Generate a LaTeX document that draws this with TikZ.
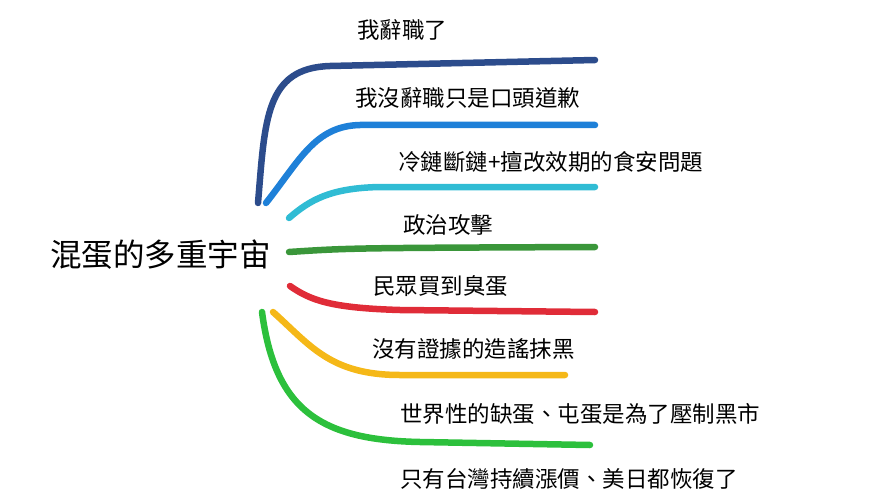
\documentclass[tikz,border=0pt]{standalone}
\usepackage{fontspec}
\newfontfamily\cjk{Noto Sans CJK TC}
\definecolor{cdarkblue}{HTML}{2C4C8C}
\definecolor{cblue}{HTML}{1E80D8}
\definecolor{ccyan}{HTML}{30BCD4}
\definecolor{cgreen}{HTML}{3A963A}
\definecolor{cred}{HTML}{E02C38}
\definecolor{cyellow}{HTML}{F5B818}
\definecolor{clgreen}{HTML}{2CC03C}
\begin{document}
\begin{tikzpicture}[x=1pt,y=-1pt,
    root/.style={font=\cjk\fontsize{31.5}{36}\selectfont, inner sep=0pt, anchor=west},
    label/.style={font=\cjk\fontsize{22.5}{26}\selectfont, inner sep=0pt, anchor=west},
    branch/.style={line width=6.5pt, line cap=round}
]
    \useasboundingbox (0,0) rectangle (880,500);
    \node[root] (root) at (50,255) {混蛋的多重宇宙};
    % branch starts
    \coordinate (s1) at (258,203);
    \coordinate (s2) at (266,203);
    \coordinate (s3) at (289,218);
    \coordinate (s4) at (289,252);
    \coordinate (s5) at (290,286);
    \coordinate (s6) at (273,312);
    \coordinate (s7) at (262,312);
    % branch ends
    \coordinate (e1) at (595,60);
    \coordinate (e2) at (595,125);
    \coordinate (e3) at (595,187);
    \coordinate (e4) at (595,247);
    \coordinate (e5) at (595,312);
    \coordinate (e6) at (565,375);
    \coordinate (e7) at (590,445);
    % labels
    \node[label] (l1) at (357,30) {我辭職了};
    \node[label] (l2) at (355,98) {我沒辭職只是口頭道歉};
    \node[label] (l3) at (398,162) {冷鏈斷鏈+擅改效期的食安問題};
    \node[label] (l4) at (403,225) {政治攻擊};
    \node[label] (l5) at (373,286) {民眾買到臭蛋};
    \node[label] (l6) at (372,349) {沒有證據的造謠抹黑};
    \node[label] (l7) at (400,414) {世界性的缺蛋、屯蛋是為了壓制黑市};
    \node[label] (l8) at (400,479) {只有台灣持續漲價、美日都恢復了};
    % branches
    \draw[branch, cdarkblue] (s1) .. controls (265,120) and (265,68) .. (330,66) -- (e1);
    \draw[branch, cblue] (s2) .. controls (300,160) and (315,126) .. (360,125) -- (e2);
    \draw[branch, ccyan] (s3) .. controls (310,200) and (330,188) .. (380,187) -- (e3);
    \draw[branch, cgreen] (s4) .. controls (350,248) .. (e4);
    \draw[branch, cred] (s5) .. controls (310,300) and (330,308) .. (400,310) -- (e5);
    \draw[branch, cyellow] (s6) .. controls (310,345) and (330,375) .. (400,375) -- (e6);
    \draw[branch, clgreen] (s7) .. controls (275,410) and (320,440) .. (420,442) -- (e7);
\end{tikzpicture}
\end{document}
